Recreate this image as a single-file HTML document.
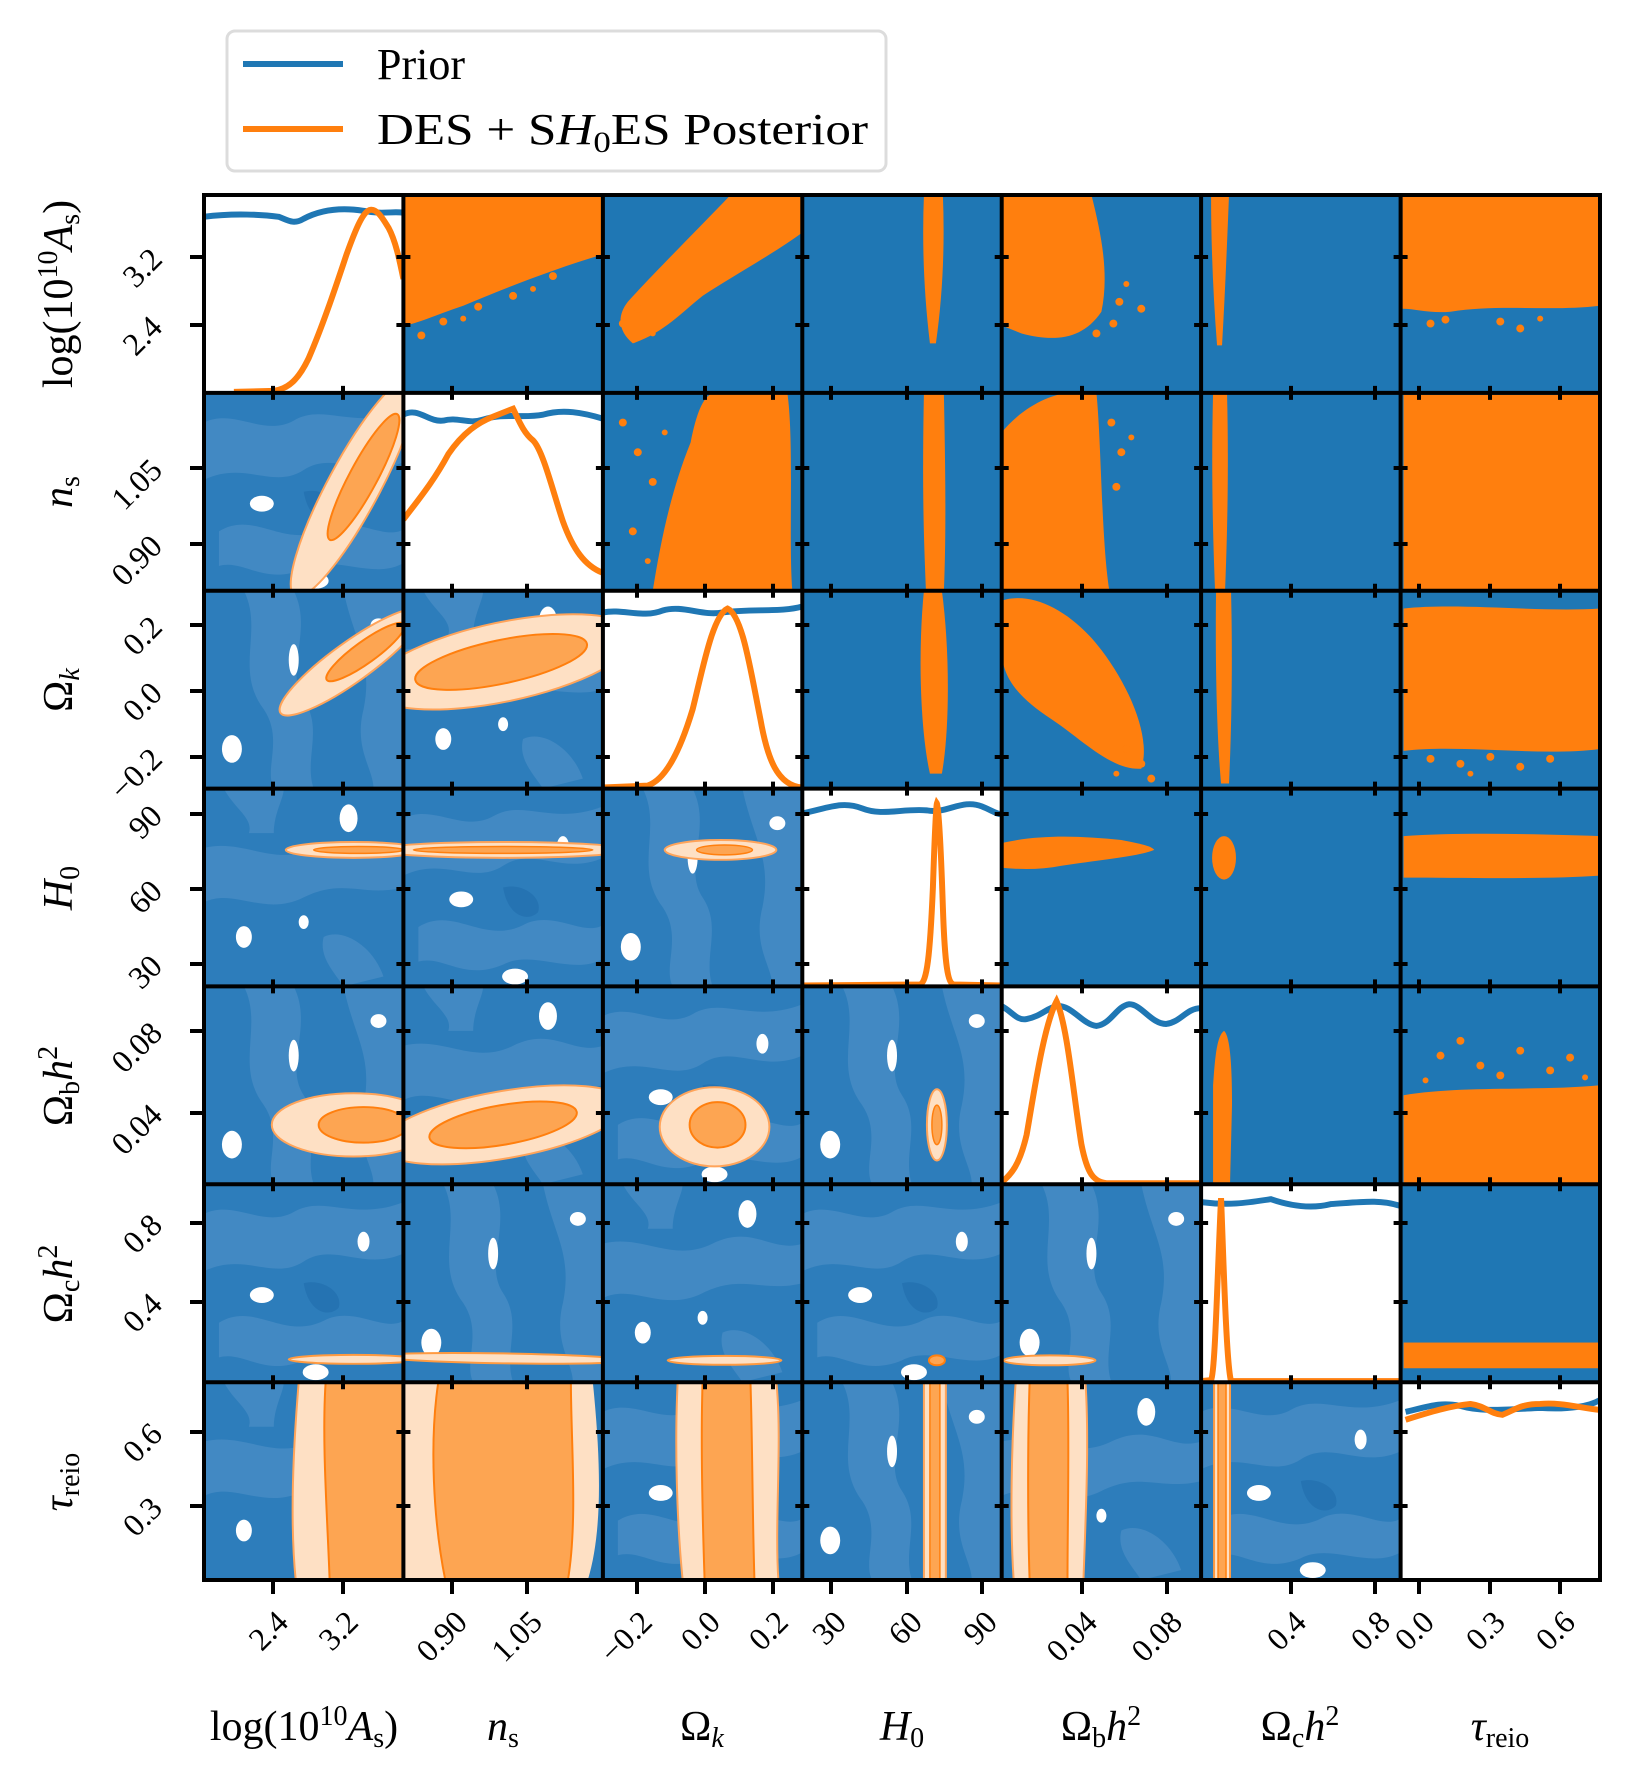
<!DOCTYPE html>
<html><head><meta charset="utf-8"><style>
html,body{margin:0;padding:0;background:#fff;}
svg{display:block;}
text{font-family:"Liberation Serif",serif;fill:#000;}
</style></head><body>
<svg width="1630" height="1786" viewBox="0 0 1630 1786" xmlns="http://www.w3.org/2000/svg">
<defs>
<clipPath id="cc"><rect x="0" y="0" width="200" height="200"/></clipPath>
<g id="bg1">
<rect width="200" height="200" fill="#2d7dbb"/>
<path fill="#4289c3" d="M0,30 C30,15 60,45 90,28 C120,10 150,38 200,18 L200,70 C160,88 130,58 100,78 C70,98 40,68 0,88Z"/>
<path fill="#4289c3" d="M15,140 C50,118 80,158 120,138 C150,122 180,150 200,138 L200,172 C170,190 130,162 100,178 C60,195 40,168 15,175Z"/>
<path fill="#2573b2" d="M100,100 C120,95 140,110 135,125 C125,135 105,130 100,100Z"/>
<ellipse cx="58" cy="112" rx="12" ry="8" fill="#fff"/>
<ellipse cx="160" cy="58" rx="6" ry="10" fill="#fff"/>
<ellipse cx="112" cy="190" rx="13" ry="8" fill="#fff"/>
</g>
<g id="bg2">
<rect width="200" height="200" fill="#2d7dbb"/>
<path fill="#4289c3" d="M40,0 C60,40 30,80 60,120 C80,150 60,180 70,200 L110,200 C100,170 120,140 100,110 C80,80 110,40 90,0Z"/>
<path fill="#4289c3" d="M140,0 C150,50 170,70 160,120 C150,160 170,180 170,200 L200,200 L200,0Z"/>
<ellipse cx="90" cy="70" rx="5" ry="16" fill="#fff"/>
<ellipse cx="28" cy="160" rx="10" ry="14" fill="#fff"/>
<ellipse cx="175" cy="35" rx="8" ry="7" fill="#fff"/>
</g>
<g id="bg3">
<rect width="200" height="200" fill="#2d7dbb"/>
<path fill="#4289c3" d="M0,60 C40,50 70,80 110,60 C150,40 170,70 200,60 L200,100 C160,110 140,90 100,110 C60,130 30,100 0,115Z"/>
<path fill="#4289c3" d="M20,0 C30,20 50,30 45,45 L70,45 C70,25 80,10 80,0Z"/>
<path fill="#4289c3" d="M120,150 C140,140 170,160 180,190 L140,200 C130,185 115,170 120,150Z"/>
<ellipse cx="145" cy="30" rx="9" ry="14" fill="#fff"/>
<ellipse cx="40" cy="150" rx="8" ry="11" fill="#fff"/>
<ellipse cx="100" cy="135" rx="5" ry="7" fill="#fff"/>
</g>
<rect id="ub" width="200" height="200" fill="#1f77b4"/>
</defs>

<!-- legend -->
<rect x="227" y="31" width="659" height="140" rx="8" fill="#fff" stroke="#dcdcdc" stroke-width="3"/>
<line x1="243" y1="64" x2="343" y2="64" stroke="#1f77b4" stroke-width="6"/>
<line x1="243" y1="129" x2="343" y2="129" stroke="#ff7f0e" stroke-width="6"/>
<text x="377" y="79" font-size="44">Prior</text>
<text x="377" y="144" font-size="44" textLength="491" lengthAdjust="spacingAndGlyphs">DES + S<tspan font-style="italic">H</tspan><tspan font-size="30" dy="8">0</tspan><tspan dy="-8">ES Posterior</tspan></text>

<!-- ROW 0 -->
<g transform="translate(204,195) scale(0.997,0.989)"><g clip-path="url(#cc)">
<rect width="200" height="200" fill="#fff"/>
<path d="M0,22 C30,18 60,20 75,22 C85,26 90,30 100,24 C115,16 135,12 160,16 C180,20 190,16 200,18" fill="none" stroke="#1f77b4" stroke-width="6"/>
<path d="M30,199 L70,198 C85,196 95,186 105,165 C120,130 133,90 143,60 C153,32 160,16 167,15 C174,14 180,25 185,33 C192,46 196,65 200,85" fill="none" stroke="#ff7f0e" stroke-width="6"/>
</g></g>
<g transform="translate(403.4,195) scale(0.997,0.989)"><g clip-path="url(#cc)">
<use href="#ub"/>
<path fill="#ff7f0e" d="M0,0 L200,0 L200,60 C150,75 100,95 60,112 C30,122 15,130 0,132Z"/>
<g fill="#ff7f0e"><circle cx="40" cy="128" r="4"/><circle cx="75" cy="113" r="4"/><circle cx="110" cy="102" r="4"/><circle cx="18" cy="142" r="4"/><circle cx="150" cy="82" r="4"/><circle cx="60" cy="125" r="3"/><circle cx="130" cy="95" r="3"/></g>
</g></g>
<g transform="translate(602.9,195) scale(0.997,0.989)"><g clip-path="url(#cc)">
<use href="#ub"/>
<path fill="#ff7f0e" d="M30,150 C18,140 12,125 25,108 C50,80 90,40 128,0 L200,0 L200,38 C170,60 130,82 100,102 C80,118 60,140 30,150Z"/>
<g fill="#ff7f0e"><circle cx="20" cy="130" r="4"/><circle cx="35" cy="115" r="4"/><circle cx="50" cy="140" r="3"/></g>
</g></g>
<g transform="translate(802.3,195) scale(0.997,0.989)"><g clip-path="url(#cc)">
<use href="#ub"/>
<path fill="#ff7f0e" d="M122,0 L141,0 C143,50 141,100 134,150 L128,150 C122,100 120,50 122,0Z"/>
</g></g>
<g transform="translate(1001.7,195) scale(0.997,0.989)"><g clip-path="url(#cc)">
<use href="#ub"/>
<path fill="#ff7f0e" d="M0,0 L90,0 C100,40 108,80 100,118 C80,148 50,148 20,140 L0,132Z"/>
<g fill="#ff7f0e"><circle cx="118" cy="108" r="4"/><circle cx="140" cy="115" r="4"/><circle cx="112" cy="130" r="4"/><circle cx="95" cy="140" r="4"/><circle cx="125" cy="90" r="3"/></g>
</g></g>
<g transform="translate(1201.1,195) scale(0.997,0.989)"><g clip-path="url(#cc)">
<use href="#ub"/>
<path fill="#ff7f0e" d="M10,0 L28,0 C26,50 24,100 21,152 L16,152 C12,100 10,50 10,0Z"/>
</g></g>
<g transform="translate(1400.6,195) scale(0.997,0.989)"><g clip-path="url(#cc)">
<use href="#ub"/>
<path fill="#ff7f0e" d="M2,0 L200,0 L200,112 C150,118 100,110 50,118 C30,120 15,115 2,115Z"/>
<g fill="#ff7f0e"><circle cx="30" cy="130" r="4"/><circle cx="45" cy="126" r="4"/><circle cx="100" cy="128" r="4"/><circle cx="120" cy="135" r="4"/><circle cx="140" cy="125" r="3"/></g>
</g></g>

<!-- ROW 1 -->
<g transform="translate(204,392.9) scale(0.997,0.989)"><g clip-path="url(#cc)">
<use href="#bg1"/>
<ellipse cx="150" cy="95" rx="125" ry="26" transform="rotate(-62 150 95)" fill="#fee0c4" stroke="#ffa45a" stroke-width="2"/>
<ellipse cx="160" cy="85" rx="72" ry="14" transform="rotate(-62 160 85)" fill="#fda552" stroke="#ff7f0e" stroke-width="2"/>
</g></g>
<g transform="translate(403.4,392.9) scale(0.997,0.989)"><g clip-path="url(#cc)">
<rect width="200" height="200" fill="#fff"/>
<path d="M0,22 C15,14 25,30 40,28 C55,24 65,32 80,27 C100,20 120,26 140,22 C160,16 180,20 200,26" fill="none" stroke="#1f77b4" stroke-width="6"/>
<path d="M0,128 C15,108 30,90 45,62 C60,40 75,30 90,24 C100,20 105,18 110,16 C115,26 120,40 130,48 C140,58 150,100 160,130 C170,158 182,175 200,182" fill="none" stroke="#ff7f0e" stroke-width="6"/>
</g></g>
<g transform="translate(602.9,392.9) scale(0.997,0.989)"><g clip-path="url(#cc)">
<use href="#ub"/>
<path fill="#ff7f0e" d="M50,200 C58,150 68,100 88,50 C94,20 100,5 110,0 L185,0 C192,50 186,150 190,200Z"/>
<g fill="#ff7f0e"><circle cx="20" cy="30" r="4"/><circle cx="35" cy="60" r="4"/><circle cx="50" cy="90" r="4"/><circle cx="30" cy="140" r="4"/><circle cx="62" cy="40" r="3"/><circle cx="45" cy="170" r="3"/></g>
</g></g>
<g transform="translate(802.3,392.9) scale(0.997,0.989)"><g clip-path="url(#cc)">
<use href="#ub"/>
<path fill="#ff7f0e" d="M122,0 L142,0 C144,100 144,150 142,200 L124,200 C122,150 120,100 122,0Z"/>
</g></g>
<g transform="translate(1001.7,392.9) scale(0.997,0.989)"><g clip-path="url(#cc)">
<use href="#ub"/>
<path fill="#ff7f0e" d="M0,200 L0,40 C20,15 50,0 70,0 L95,0 C100,50 100,150 108,200Z"/>
<g fill="#ff7f0e"><circle cx="110" cy="30" r="4"/><circle cx="120" cy="60" r="4"/><circle cx="115" cy="95" r="4"/><circle cx="130" cy="45" r="3"/></g>
</g></g>
<g transform="translate(1201.1,392.9) scale(0.997,0.989)"><g clip-path="url(#cc)">
<use href="#ub"/>
<path fill="#ff7f0e" d="M12,0 L26,0 C28,80 26,150 24,200 L14,200 C12,150 10,80 12,0Z"/>
</g></g>
<g transform="translate(1400.6,392.9) scale(0.997,0.989)"><g clip-path="url(#cc)">
<use href="#ub"/>
<rect x="3" y="2" width="195" height="198" fill="#ff7f0e"/>
</g></g>

<!-- ROW 2 -->
<g transform="translate(204,590.7) scale(0.997,0.989)"><g clip-path="url(#cc)">
<use href="#bg2"/>
<ellipse cx="148" cy="72" rx="88" ry="20" transform="rotate(-36 148 72)" fill="#fee0c4" stroke="#ffa45a" stroke-width="2"/>
<ellipse cx="162" cy="62" rx="48" ry="11" transform="rotate(-36 162 62)" fill="#fda552" stroke="#ff7f0e" stroke-width="2"/>
</g></g>
<g transform="translate(403.4,590.7) scale(0.997,0.989)"><g clip-path="url(#cc)">
<use href="#bg3"/>
<ellipse cx="100" cy="72" rx="135" ry="40" transform="rotate(-12 100 72)" fill="#fee0c4" stroke="#ffa45a" stroke-width="2"/>
<ellipse cx="98" cy="72" rx="88" ry="22" transform="rotate(-12 98 72)" fill="#fda552" stroke="#ff7f0e" stroke-width="2"/>
</g></g>
<g transform="translate(602.9,590.7) scale(0.997,0.989)"><g clip-path="url(#cc)">
<rect width="200" height="200" fill="#fff"/>
<path d="M0,22 C20,18 40,28 60,20 C80,14 100,26 120,22 C150,18 180,22 200,16" fill="none" stroke="#1f77b4" stroke-width="6"/>
<path d="M0,199 L45,197 C60,192 75,170 90,120 C100,80 110,25 125,18 C140,25 148,80 158,130 C165,170 175,197 200,199" fill="none" stroke="#ff7f0e" stroke-width="6"/>
</g></g>
<g transform="translate(802.3,590.7) scale(0.997,0.989)"><g clip-path="url(#cc)">
<use href="#ub"/>
<path fill="#ff7f0e" d="M122,0 L140,0 C148,60 148,140 140,185 L128,185 C118,140 116,60 122,0Z"/>
</g></g>
<g transform="translate(1001.7,590.7) scale(0.997,0.989)"><g clip-path="url(#cc)">
<use href="#ub"/>
<path fill="#ff7f0e" d="M0,10 C30,0 70,20 100,60 C130,100 150,150 140,180 C110,182 80,150 50,130 C20,110 0,90 0,60Z"/>
<g fill="#ff7f0e"><circle cx="125" cy="160" r="4"/><circle cx="140" cy="175" r="4"/><circle cx="150" cy="190" r="4"/><circle cx="115" cy="185" r="3"/></g>
</g></g>
<g transform="translate(1201.1,590.7) scale(0.997,0.989)"><g clip-path="url(#cc)">
<use href="#ub"/>
<path fill="#ff7f0e" d="M15,0 L30,0 C32,80 30,150 28,195 L20,195 C16,150 14,80 15,0Z"/>
</g></g>
<g transform="translate(1400.6,590.7) scale(0.997,0.989)"><g clip-path="url(#cc)">
<use href="#ub"/>
<path fill="#ff7f0e" d="M3,18 C60,12 140,22 200,18 L200,160 C140,168 60,155 3,162Z"/>
<g fill="#ff7f0e"><circle cx="30" cy="170" r="4"/><circle cx="60" cy="175" r="4"/><circle cx="90" cy="168" r="4"/><circle cx="120" cy="178" r="4"/><circle cx="150" cy="170" r="4"/><circle cx="70" cy="185" r="3"/></g>
</g></g>

<!-- ROW 3 -->
<g transform="translate(204,788.6) scale(0.997,0.989)"><g clip-path="url(#cc)">
<use href="#bg3"/>
<ellipse cx="150" cy="62" rx="68" ry="8" fill="#fee0c4" stroke="#ffa45a" stroke-width="2"/>
<ellipse cx="155" cy="62" rx="45" ry="3.5" fill="#fda552" stroke="#ff7f0e" stroke-width="1.5"/>
</g></g>
<g transform="translate(403.4,788.6) scale(0.997,0.989)"><g clip-path="url(#cc)">
<use href="#bg1"/>
<ellipse cx="100" cy="62" rx="125" ry="8" fill="#fee0c4" stroke="#ffa45a" stroke-width="2"/>
<ellipse cx="100" cy="62" rx="90" ry="3.5" fill="#fda552" stroke="#ff7f0e" stroke-width="1.5"/>
</g></g>
<g transform="translate(602.9,788.6) scale(0.997,0.989)"><g clip-path="url(#cc)">
<use href="#bg2"/>
<ellipse cx="118" cy="62" rx="56" ry="10" fill="#fee0c4" stroke="#ffa45a" stroke-width="2"/>
<ellipse cx="122" cy="62" rx="28" ry="5" fill="#fda552" stroke="#ff7f0e" stroke-width="1.5"/>
</g></g>
<g transform="translate(802.3,788.6) scale(0.997,0.989)"><g clip-path="url(#cc)">
<rect width="200" height="200" fill="#fff"/>
<path d="M0,25 C25,20 40,12 60,20 C80,28 100,20 125,22 C145,26 160,10 180,18 C190,22 195,26 200,26" fill="none" stroke="#1f77b4" stroke-width="6"/>
<path d="M0,199 L118,198 C125,196 128,170 131,100 C133,40 134,18 135,15 C137,18 139,60 141,120 C143,180 146,197 152,198 L200,199" fill="none" stroke="#ff7f0e" stroke-width="6"/>
</g></g>
<g transform="translate(1001.7,788.6) scale(0.997,0.989)"><g clip-path="url(#cc)">
<use href="#ub"/>
<path fill="#ff7f0e" d="M0,55 C40,46 80,48 120,52 C140,56 150,58 153,62 C140,68 100,72 60,78 C40,82 20,82 0,80Z"/>
</g></g>
<g transform="translate(1201.1,788.6) scale(0.997,0.989)"><g clip-path="url(#cc)">
<use href="#ub"/>
<ellipse cx="23" cy="70" rx="12" ry="22" fill="#ff7f0e"/>
</g></g>
<g transform="translate(1400.6,788.6) scale(0.997,0.989)"><g clip-path="url(#cc)">
<use href="#ub"/>
<path fill="#ff7f0e" d="M3,48 C60,44 140,46 200,48 L200,88 C140,92 60,90 3,90Z"/>
</g></g>

<!-- ROW 4 -->
<g transform="translate(204,986.4) scale(0.997,0.989)"><g clip-path="url(#cc)">
<use href="#bg2"/>
<ellipse cx="150" cy="140" rx="82" ry="32" fill="#fee0c4" stroke="#ffa45a" stroke-width="2"/>
<ellipse cx="160" cy="140" rx="45" ry="18" fill="#fda552" stroke="#ff7f0e" stroke-width="2"/>
</g></g>
<g transform="translate(403.4,986.4) scale(0.997,0.989)"><g clip-path="url(#cc)">
<use href="#bg3"/>
<ellipse cx="100" cy="140" rx="125" ry="34" transform="rotate(-10 100 140)" fill="#fee0c4" stroke="#ffa45a" stroke-width="2"/>
<ellipse cx="100" cy="140" rx="75" ry="20" transform="rotate(-10 100 140)" fill="#fda552" stroke="#ff7f0e" stroke-width="2"/>
</g></g>
<g transform="translate(602.9,986.4) scale(0.997,0.989)"><g clip-path="url(#cc)">
<use href="#bg1"/>
<ellipse cx="112" cy="142" rx="55" ry="40" fill="#fee0c4" stroke="#ffa45a" stroke-width="2"/>
<ellipse cx="115" cy="140" rx="28" ry="23" fill="#fda552" stroke="#ff7f0e" stroke-width="2"/>
</g></g>
<g transform="translate(802.3,986.4) scale(0.997,0.989)"><g clip-path="url(#cc)">
<use href="#bg2"/>
<ellipse cx="135" cy="140" rx="10" ry="36" fill="#fee0c4" stroke="#ffa45a" stroke-width="2"/>
<ellipse cx="135" cy="140" rx="5" ry="20" fill="#fda552" stroke="#ff7f0e" stroke-width="1.5"/>
</g></g>
<g transform="translate(1001.7,986.4) scale(0.997,0.989)"><g clip-path="url(#cc)">
<rect width="200" height="200" fill="#fff"/>
<path d="M0,20 C10,25 15,35 25,33 C40,30 45,22 55,20 C70,18 80,38 95,40 C110,38 115,20 128,18 C140,18 150,38 165,38 C180,36 185,22 200,22" fill="none" stroke="#1f77b4" stroke-width="6"/>
<path d="M0,198 C10,190 18,180 25,150 C32,110 42,40 55,15 C66,40 72,110 80,160 C86,190 92,197 105,199 L200,199" fill="none" stroke="#ff7f0e" stroke-width="6"/>
</g></g>
<g transform="translate(1201.1,986.4) scale(0.997,0.989)"><g clip-path="url(#cc)">
<use href="#ub"/>
<path fill="#ff7f0e" d="M12,200 L12,100 C14,70 16,50 23,45 C29,50 31,80 31,120 L29,200Z"/>
</g></g>
<g transform="translate(1400.6,986.4) scale(0.997,0.989)"><g clip-path="url(#cc)">
<use href="#ub"/>
<path fill="#ff7f0e" d="M3,110 C60,100 140,106 200,100 L200,200 L3,200Z"/>
<g fill="#ff7f0e"><circle cx="40" cy="70" r="4"/><circle cx="60" cy="55" r="4"/><circle cx="80" cy="80" r="4"/><circle cx="120" cy="65" r="4"/><circle cx="150" cy="85" r="4"/><circle cx="170" cy="72" r="4"/><circle cx="100" cy="90" r="4"/><circle cx="25" cy="95" r="3"/><circle cx="185" cy="92" r="3"/></g>
</g></g>

<!-- ROW 5 -->
<g transform="translate(204,1184.3) scale(0.997,0.989)"><g clip-path="url(#cc)">
<use href="#bg1"/>
<ellipse cx="150" cy="177" rx="65" ry="4.5" fill="#fee0c4" stroke="#ff9a40" stroke-width="2"/>
</g></g>
<g transform="translate(403.4,1184.3) scale(0.997,0.989)"><g clip-path="url(#cc)">
<use href="#bg2"/>
<ellipse cx="100" cy="176" rx="125" ry="5" transform="rotate(1 100 176)" fill="#fee0c4" stroke="#ff9a40" stroke-width="2"/>
</g></g>
<g transform="translate(602.9,1184.3) scale(0.997,0.989)"><g clip-path="url(#cc)">
<use href="#bg3"/>
<ellipse cx="122" cy="178" rx="57" ry="4.5" fill="#fee0c4" stroke="#ff9a40" stroke-width="2"/>
</g></g>
<g transform="translate(802.3,1184.3) scale(0.997,0.989)"><g clip-path="url(#cc)">
<use href="#bg1"/>
<ellipse cx="135" cy="178" rx="8" ry="5" fill="#fda552" stroke="#ff7f0e" stroke-width="2"/>
</g></g>
<g transform="translate(1001.7,1184.3) scale(0.997,0.989)"><g clip-path="url(#cc)">
<use href="#bg2"/>
<ellipse cx="48" cy="178" rx="46" ry="5" fill="#fee0c4" stroke="#ff9a40" stroke-width="2"/>
</g></g>
<g transform="translate(1201.1,1184.3) scale(0.997,0.989)"><g clip-path="url(#cc)">
<rect width="200" height="200" fill="#fff"/>
<path d="M0,18 C30,22 50,18 70,15 C90,22 110,25 130,20 C160,18 180,15 200,22" fill="none" stroke="#1f77b4" stroke-width="6"/>
<path d="M0,199 L10,198 C14,190 16,100 20,14 C22,60 25,180 30,199 L200,199" fill="none" stroke="#ff7f0e" stroke-width="6"/>
</g></g>
<g transform="translate(1400.6,1184.3) scale(0.997,0.989)"><g clip-path="url(#cc)">
<use href="#ub"/>
<rect x="3" y="160" width="197" height="26" fill="#ff7f0e"/>
</g></g>

<!-- ROW 6 -->
<g transform="translate(204,1382.2) scale(0.997,0.989)"><g clip-path="url(#cc)">
<use href="#bg3"/>
<path d="M95,0 C90,60 86,140 92,200 L200,200 L200,0Z" fill="#fee0c4" stroke="#ffa45a" stroke-width="2"/>
<path d="M122,0 C118,60 124,140 126,200 L200,200 L200,0Z" fill="#fda552" stroke="#ff7f0e" stroke-width="2"/>
</g></g>
<g transform="translate(403.4,1382.2) scale(0.997,0.989)"><g clip-path="url(#cc)">
<rect width="200" height="200" fill="#fee0c4"/>
<path d="M190,0 C198,80 200,150 185,200 L200,200 L200,0Z" fill="#2d7dbb"/>
<path d="M35,0 C26,60 30,140 42,200 L165,200 C175,140 168,60 168,0Z" fill="#fda552" stroke="#ff7f0e" stroke-width="2"/>
</g></g>
<g transform="translate(602.9,1382.2) scale(0.997,0.989)"><g clip-path="url(#cc)">
<use href="#bg1"/>
<path d="M75,0 C72,60 74,140 80,200 L176,200 C172,140 180,60 174,0Z" fill="#fee0c4" stroke="#ffa45a" stroke-width="2"/>
<path d="M100,0 C98,60 100,140 102,200 L152,200 C150,140 150,60 148,0Z" fill="#fda552" stroke="#ff7f0e" stroke-width="2"/>
</g></g>
<g transform="translate(802.3,1382.2) scale(0.997,0.989)"><g clip-path="url(#cc)">
<use href="#bg2"/>
<rect x="122" y="0" width="22" height="200" fill="#fee0c4" stroke="#ffa45a" stroke-width="2"/>
<rect x="128" y="0" width="10" height="200" fill="#fda552" stroke="#ff7f0e" stroke-width="1.5"/>
</g></g>
<g transform="translate(1001.7,1382.2) scale(0.997,0.989)"><g clip-path="url(#cc)">
<use href="#bg3"/>
<path d="M14,0 C10,60 8,140 12,200 L82,200 C84,140 88,60 84,0Z" fill="#fee0c4" stroke="#ffa45a" stroke-width="2"/>
<path d="M28,0 C26,60 26,140 28,200 L66,200 C66,140 68,60 66,0Z" fill="#fda552" stroke="#ff7f0e" stroke-width="2"/>
</g></g>
<g transform="translate(1201.1,1382.2) scale(0.997,0.989)"><g clip-path="url(#cc)">
<use href="#bg1"/>
<rect x="13" y="0" width="16" height="200" fill="#fee0c4" stroke="#ff9a40" stroke-width="2"/>
<rect x="17" y="0" width="8" height="200" fill="#fda552" stroke="#ff7f0e" stroke-width="1.5"/>
</g></g>
<g transform="translate(1400.6,1382.2) scale(0.997,0.989)"><g clip-path="url(#cc)">
<rect width="200" height="200" fill="#fff"/>
<path d="M5,30 C30,24 40,20 60,24 C80,30 100,28 140,26 C170,28 190,24 200,18" fill="none" stroke="#1f77b4" stroke-width="6"/>
<path d="M5,38 C30,30 50,24 70,22 C85,24 90,32 102,33 C115,28 120,22 140,22 C160,20 180,26 200,28" fill="none" stroke="#ff7f0e" stroke-width="6"/>
</g></g>

<!-- spines -->
<g stroke="#000" stroke-width="4" fill="none">
<path d="M204,195 V1580 M403.4,195 V1580 M602.9,195 V1580 M802.3,195 V1580 M1001.7,195 V1580 M1201.1,195 V1580 M1400.6,195 V1580 M1600,193 V1582"/>
<path d="M202,195 H1602 M204,392.9 H1600 M204,590.7 H1600 M204,788.6 H1600 M204,986.4 H1600 M204,1184.3 H1600 M204,1382.2 H1600 M202,1580 H1602"/>
</g>
<path id="ticks" stroke="#000" stroke-width="4" fill="none" d=""/>
<script>
(function(){
var X=[204,403.4,602.9,802.3,1001.7,1201.1,1400.6,1600];
var Y=[195,392.9,590.7,788.6,986.4,1184.3,1382.2,1580];
var xt=[[273,343],[452,527],[637,705,773],[831,907,982],[1082,1167],[1291,1375],[1419,1490,1560]];
var yt=[[257,325],[468,544],[625,691,757],[814,889,964],[1031,1113],[1223,1302],[1432,1506]];
var d="";
for(var r=0;r<7;r++)for(var c=0;c<7;c++){
  var x0=X[c], yb=Y[r+1];
  yt[r].forEach(function(y){ if(c==0) d+="M"+(x0-14)+","+y+"H"+x0; else d+="M"+(x0-7)+","+y+"H"+(x0+7);});
  xt[c].forEach(function(x){ if(r==6) d+="M"+x+","+yb+"V"+(yb+14); else d+="M"+x+","+(yb-7)+"V"+(yb+7);});
}
document.getElementById("ticks").setAttribute("d",d);
})();
</script>

<!-- y tick labels -->
<g font-size="32" text-anchor="end">
<text transform="translate(164,261) rotate(-45)">3.2</text>
<text transform="translate(164,329) rotate(-45)">2.4</text>
<text transform="translate(164,472) rotate(-45)">1.05</text>
<text transform="translate(164,548) rotate(-45)">0.90</text>
<text transform="translate(164,629) rotate(-45)">0.2</text>
<text transform="translate(164,695) rotate(-45)">0.0</text>
<text transform="translate(164,761) rotate(-45)">−0.2</text>
<text transform="translate(164,818) rotate(-45)">90</text>
<text transform="translate(164,893) rotate(-45)">60</text>
<text transform="translate(164,968) rotate(-45)">30</text>
<text transform="translate(164,1035) rotate(-45)">0.08</text>
<text transform="translate(164,1117) rotate(-45)">0.04</text>
<text transform="translate(164,1227) rotate(-45)">0.8</text>
<text transform="translate(164,1306) rotate(-45)">0.4</text>
<text transform="translate(164,1436) rotate(-45)">0.6</text>
<text transform="translate(164,1510) rotate(-45)">0.3</text>
</g>
<!-- x tick labels -->
<g font-size="32" text-anchor="end">
<text transform="translate(290,1624) rotate(-45)">2.4</text>
<text transform="translate(360,1624) rotate(-45)">3.2</text>
<text transform="translate(469,1624) rotate(-45)">0.90</text>
<text transform="translate(544,1624) rotate(-45)">1.05</text>
<text transform="translate(654,1624) rotate(-45)">−0.2</text>
<text transform="translate(722,1624) rotate(-45)">0.0</text>
<text transform="translate(790,1624) rotate(-45)">0.2</text>
<text transform="translate(848,1624) rotate(-45)">30</text>
<text transform="translate(924,1624) rotate(-45)">60</text>
<text transform="translate(999,1624) rotate(-45)">90</text>
<text transform="translate(1099,1624) rotate(-45)">0.04</text>
<text transform="translate(1184,1624) rotate(-45)">0.08</text>
<text transform="translate(1308,1624) rotate(-45)">0.4</text>
<text transform="translate(1392,1624) rotate(-45)">0.8</text>
<text transform="translate(1436,1624) rotate(-45)">0.0</text>
<text transform="translate(1507,1624) rotate(-45)">0.3</text>
<text transform="translate(1577,1624) rotate(-45)">0.6</text>
</g>

<!-- y axis labels -->
<g font-size="42" text-anchor="middle">
<text transform="translate(72,294) rotate(-90)">log(10<tspan font-size="28" dy="-15">10</tspan><tspan font-style="italic" dy="15">A</tspan><tspan font-size="28" dy="7">s</tspan><tspan dy="-7">)</tspan></text>
<text transform="translate(72,492) rotate(-90)"><tspan font-style="italic">n</tspan><tspan font-size="28" dy="7">s</tspan></text>
<text transform="translate(72,690) rotate(-90)">Ω<tspan font-size="28" font-style="italic" dy="7">k</tspan></text>
<text transform="translate(72,888) rotate(-90)"><tspan font-style="italic">H</tspan><tspan font-size="28" dy="7">0</tspan></text>
<text transform="translate(72,1086) rotate(-90)">Ω<tspan font-size="28" dy="7">b</tspan><tspan font-style="italic" dy="-7">h</tspan><tspan font-size="28" dy="-15">2</tspan></text>
<text transform="translate(72,1284) rotate(-90)">Ω<tspan font-size="28" dy="7">c</tspan><tspan font-style="italic" dy="-7">h</tspan><tspan font-size="28" dy="-15">2</tspan></text>
<text transform="translate(72,1482) rotate(-90)"><tspan font-style="italic">τ</tspan><tspan font-size="28" dy="7">reio</tspan></text>
</g>
<!-- x axis labels -->
<g font-size="42" text-anchor="middle">
<text x="304" y="1740">log(10<tspan font-size="28" dy="-15">10</tspan><tspan font-style="italic" dy="15">A</tspan><tspan font-size="28" dy="7">s</tspan><tspan dy="-7">)</tspan></text>
<text x="503" y="1740"><tspan font-style="italic">n</tspan><tspan font-size="28" dy="7">s</tspan></text>
<text x="702" y="1740">Ω<tspan font-size="28" font-style="italic" dy="7">k</tspan></text>
<text x="902" y="1740"><tspan font-style="italic">H</tspan><tspan font-size="28" dy="7">0</tspan></text>
<text x="1101" y="1740">Ω<tspan font-size="28" dy="7">b</tspan><tspan font-style="italic" dy="-7">h</tspan><tspan font-size="28" dy="-15">2</tspan></text>
<text x="1300" y="1740">Ω<tspan font-size="28" dy="7">c</tspan><tspan font-style="italic" dy="-7">h</tspan><tspan font-size="28" dy="-15">2</tspan></text>
<text x="1500" y="1740"><tspan font-style="italic">τ</tspan><tspan font-size="28" dy="7">reio</tspan></text>
</g>
</svg>
</body></html>
